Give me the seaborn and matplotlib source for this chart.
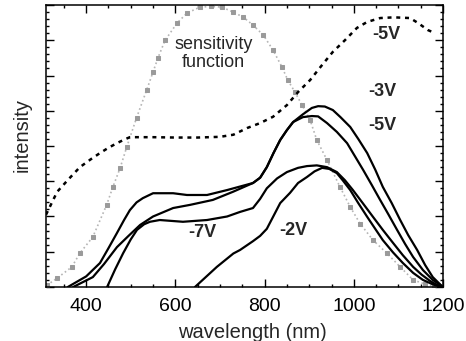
import numpy as np
import pandas as pd
import seaborn as sns
import matplotlib.pyplot as plt
from matplotlib.ticker import MultipleLocator

# values (x in nm, y in arbitrary intensity units)
sens_x = [312, 335, 368, 386, 415, 446, 460, 476, 491, 513, 536, 550, 561, 577, 604, 626,
          655, 680, 705, 729, 752, 774, 797, 819, 839, 852, 868, 884, 902, 917, 940, 969,
          992, 1014, 1043, 1074, 1104, 1133, 1160, 1180]
sens_y = [0.05, 0.25, 0.57, 0.96, 1.42, 2.33, 2.84, 3.37, 3.97, 4.8, 5.6, 6.1, 6.5, 7.0, 7.49, 7.77,
          7.94, 7.96, 7.94, 7.8, 7.66, 7.43, 7.15, 6.72, 6.24, 5.87, 5.53, 5.16, 4.74, 4.17, 3.6, 2.84,
          2.27, 1.8, 1.33, 0.96, 0.57, 0.2, 0.08, 0.02]

dash_x = [310, 335, 360, 386, 410, 431, 450, 469, 485, 498, 550, 600, 650, 700, 730, 761,
          790, 819, 850, 875, 902, 929, 953, 980, 1007, 1030, 1059, 1090, 1126, 1144, 1166, 1182]
dash_y = [2.05, 2.7, 3.05, 3.4, 3.62, 3.8, 3.95, 4.08, 4.18, 4.25, 4.25, 4.24, 4.24, 4.26, 4.32, 4.51,
          4.65, 4.83, 5.16, 5.53, 5.87, 6.3, 6.67, 7.0, 7.35, 7.52, 7.63, 7.65, 7.63, 7.49, 7.29, 7.2]

m3_x = [359, 400, 431, 450, 469, 485, 498, 513, 527, 550, 595, 626, 671, 716, 745, 774, 790, 805,
        820, 835, 850, 864, 886, 906, 920, 935, 953, 970, 992, 1010, 1030, 1048, 1065, 1085, 1104,
        1122, 1142, 1160, 1177, 1197]
m3_y = [0, 0.3, 0.68, 1.1, 1.53, 1.9, 2.18, 2.4, 2.52, 2.66, 2.66, 2.61, 2.61, 2.75, 2.85, 2.95, 3.1, 3.4,
        3.8, 4.17, 4.45, 4.68, 4.9, 5.08, 5.13, 5.12, 5.02, 4.82, 4.54, 4.2, 3.8, 3.33, 2.84, 2.38, 1.9,
        1.47, 1.05, 0.62, 0.28, 0.03]

m5_x = [371, 415, 440, 469, 495, 521, 550, 595, 633, 684, 729, 774, 790, 805, 820, 835, 850, 864,
        886, 906, 920, 940, 962, 985, 1003, 1021, 1040, 1059, 1078, 1097, 1115, 1133, 1155, 1177, 1197]
m5_y = [0, 0.28, 0.65, 1.13, 1.45, 1.76, 2.0, 2.24, 2.33, 2.47, 2.7, 2.95, 3.1, 3.4, 3.8, 4.17, 4.45, 4.68,
        4.82, 4.85, 4.84, 4.65, 4.4, 4.08, 3.7, 3.32, 2.9, 2.47, 2.05, 1.62, 1.22, 0.85, 0.48, 0.2, 0.03]

m7_x = [447, 465, 483, 500, 514, 530, 543, 565, 617, 671, 716, 745, 774, 790, 805, 828, 850, 875,
        895, 917, 940, 962, 980, 998, 1020, 1043, 1065, 1088, 1110, 1133, 1152, 1171, 1192]
m7_y = [0, 0.5, 0.96, 1.35, 1.62, 1.78, 1.85, 1.9, 1.85, 1.9, 2.0, 2.13, 2.24, 2.5, 2.8, 3.08, 3.26, 3.38,
        3.43, 3.45, 3.4, 3.26, 3.03, 2.75, 2.38, 1.99, 1.62, 1.25, 0.9, 0.57, 0.35, 0.17, 0.02]

m2_x = [644, 693, 730, 745, 774, 790, 805, 819, 835, 857, 875, 895, 912, 929, 945, 962, 975, 992,
        1010, 1030, 1048, 1065, 1088, 1110, 1133, 1155, 1178, 1195]
m2_y = [0, 0.57, 0.95, 1.05, 1.3, 1.45, 1.65, 1.99, 2.38, 2.67, 2.95, 3.12, 3.28, 3.38, 3.35, 3.23, 3.03, 2.75,
        2.38, 1.99, 1.65, 1.33, 0.98, 0.68, 0.4, 0.2, 0.07, 0.01]

sns.set_style('ticks')
plt.rcParams['font.family'] = ['Liberation Sans', 'DejaVu Sans']

fig = plt.figure(figsize=(4.66, 3.41), dpi=100)
ax = fig.add_axes([0.0987, 0.1584, 0.852, 0.8269])

# sensitivity function: grey dotted with little squares
sns.lineplot(x=sens_x, y=sens_y, ax=ax, color='#b5b5b5', lw=1.2, linestyle=':',
             marker='s', markersize=2.6, markerfacecolor='#9a9a9a', markeredgecolor='#9a9a9a')

# dashed -5V curve
sns.lineplot(x=dash_x, y=dash_y, ax=ax, color='black', lw=1.8, dashes=False)
ax.lines[-1].set_dashes([1.6, 1.9])

# solid curves
for xs, ys in [(m3_x, m3_y), (m5_x, m5_y), (m7_x, m7_y), (m2_x, m2_y)]:
    sns.lineplot(x=xs, y=ys, ax=ax, color='black', lw=1.6)

ax.set_xlim(310, 1200)
ax.set_ylim(0, 8)
ax.xaxis.set_major_locator(MultipleLocator(200))
ax.xaxis.set_minor_locator(MultipleLocator(50))
ax.yaxis.set_major_locator(MultipleLocator(1))
ax.yaxis.set_minor_locator(MultipleLocator(0.2))
ax.tick_params(which='both', direction='in', top=True, right=True, width=1, colors='black')
ax.tick_params(which='major', length=6, labelsize=14, pad=8)
ax.tick_params(which='minor', length=2.5)
ax.set_yticklabels([])
for s in ax.spines.values():
    s.set_linewidth(1.1)
    s.set_color('black')

ax.set_xlabel('wavelength (nm)', fontsize=14.5)
ax.set_ylabel('intensity', fontsize=14.5)
ax.xaxis.set_label_coords(0.52, -0.128)
ax.yaxis.set_label_coords(-0.037, 0.54)

lab = dict(fontsize=13, fontweight='bold', ha='center', va='center')
ax.text(1072, 7.17, '-5V', **lab)
ax.text(1063, 5.56, '-3V', **lab)
ax.text(1063, 4.57, '-5V', **lab)
ax.text(660, 1.56, '-7V', **lab)
ax.text(864, 1.59, '-2V', **lab)
ax.text(685, 6.63, 'sensitivity\nfunction', fontsize=13, ha='center', va='center',
        linespacing=1.1)

fig.savefig('out.png', dpi=100)
